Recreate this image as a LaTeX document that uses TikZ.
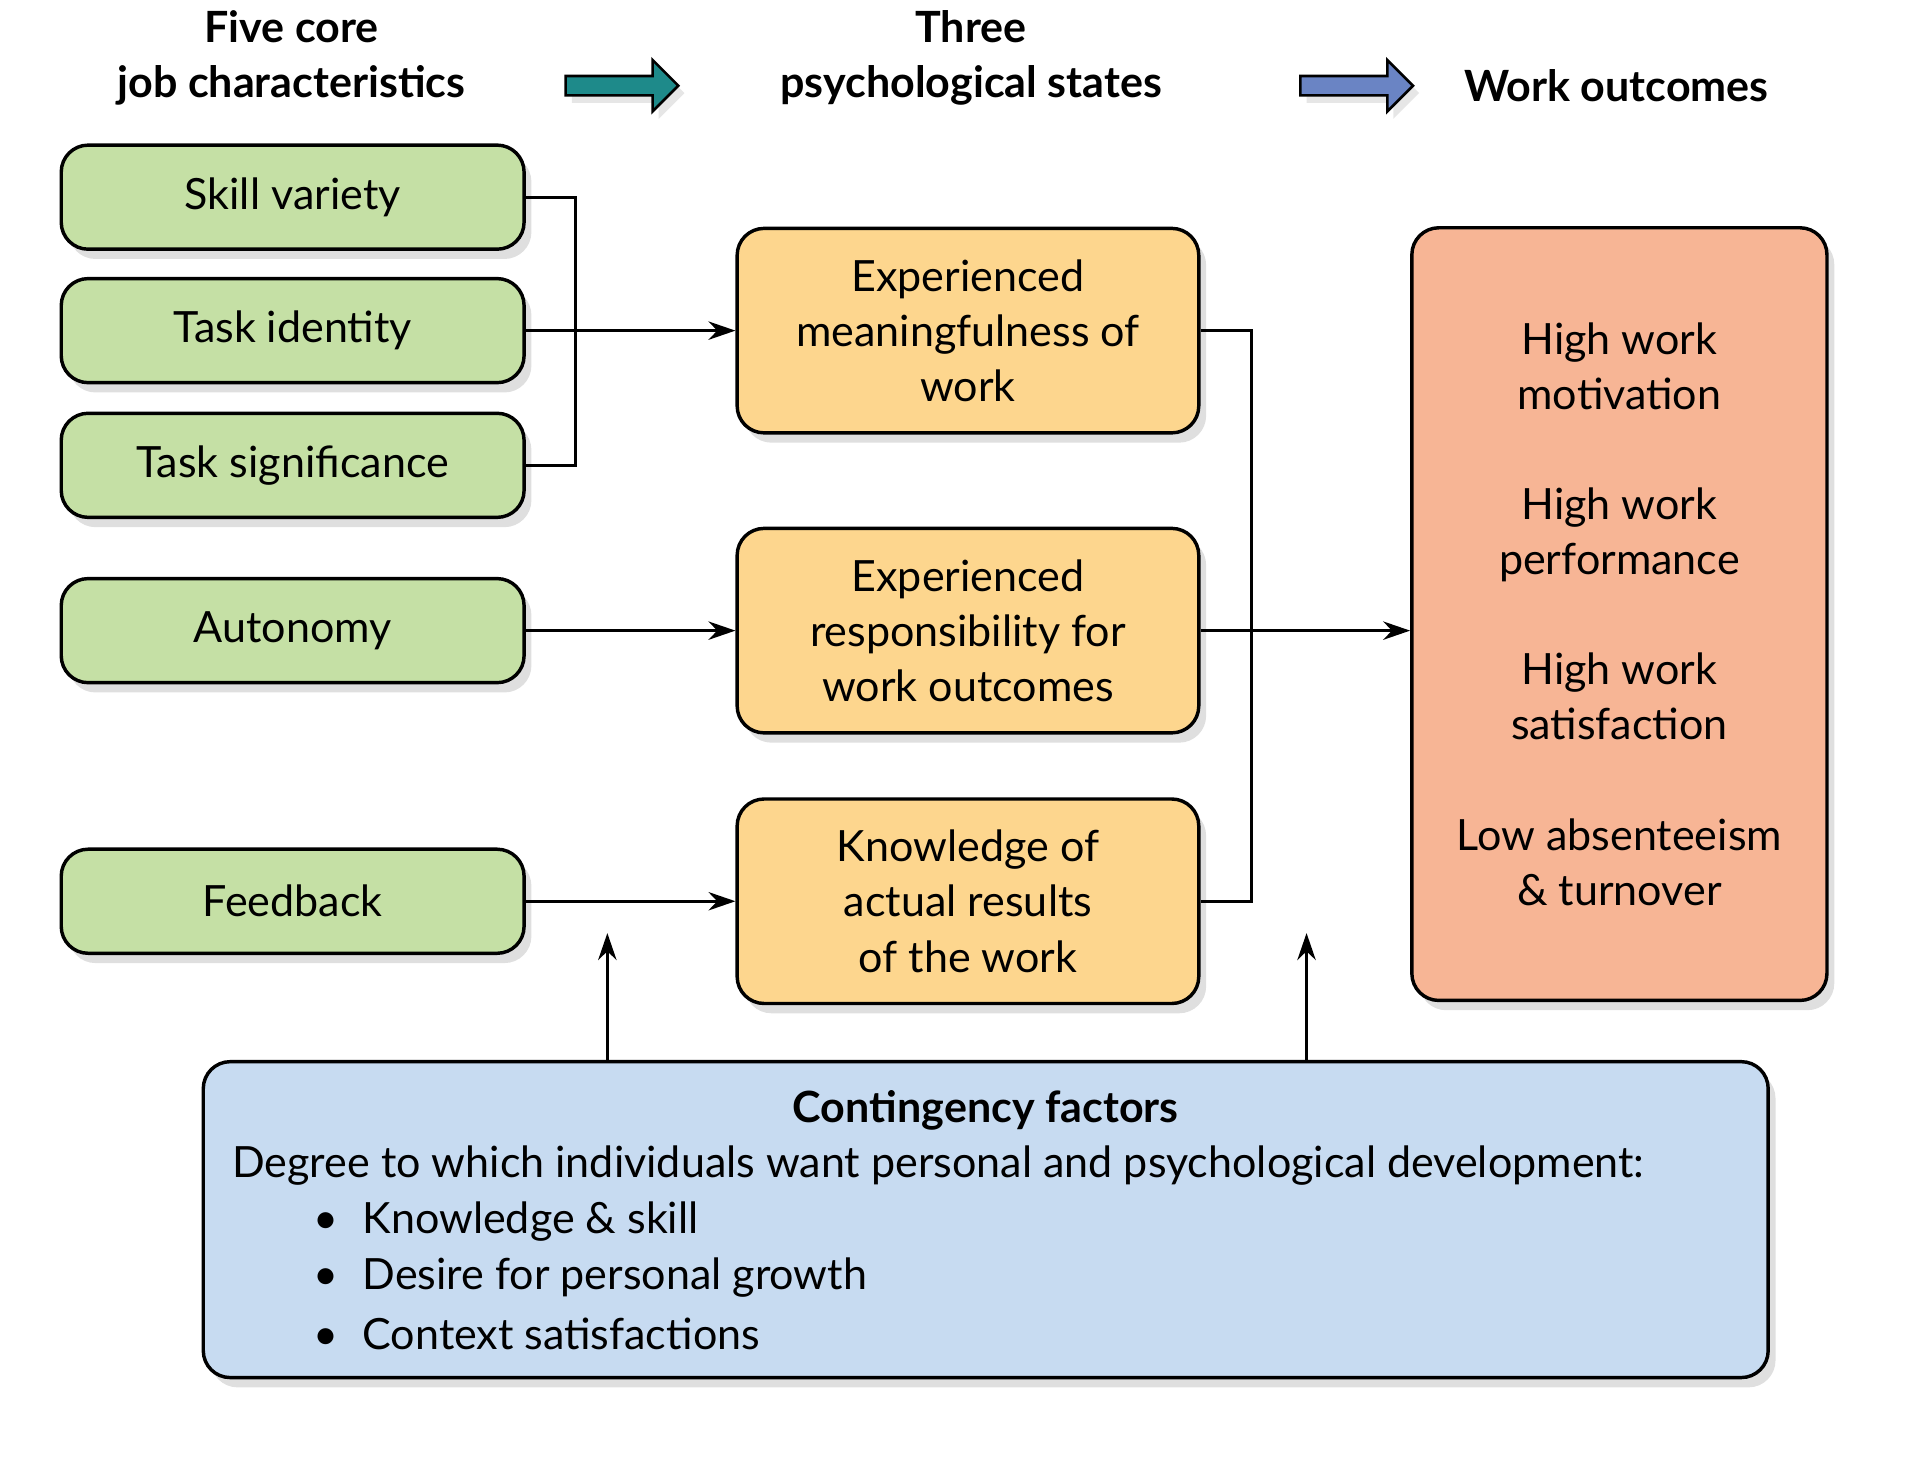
\documentclass[tikz,border=0pt]{standalone}
\usepackage{fontspec}
\setmainfont{Lato}
\usetikzlibrary{shadows,shapes.arrows,arrows.meta}
\definecolor{jobgreen}{HTML}{C5E0A5}
\definecolor{stateorange}{HTML}{FDD68E}
\definecolor{outred}{HTML}{F7B595}
\definecolor{contblue}{HTML}{C7DBF1}
\definecolor{arrteal}{HTML}{1E8A8A}
\definecolor{arrblue}{HTML}{6A84C4}
\tikzset{
  box/.style={draw=black, line width=0.8pt, rounded corners=0.22cm, align=center,
    drop shadow={opacity=0.25, shadow xshift=0.06cm, shadow yshift=-0.08cm},
    font=\fontsize{10}{12.8}\selectfont},
  job/.style={box, fill=jobgreen, minimum width=3.78cm, minimum height=0.85cm},
  state/.style={box, fill=stateorange, minimum width=3.77cm, minimum height=1.67cm},
  head/.style={align=center, font=\bfseries\fontsize{10}{12.8}\selectfont},
  fat/.style={single arrow, draw=black, line width=0.6pt, minimum height=0.92cm,
    minimum width=0.42cm, single arrow head extend=0.1cm, inner sep=0.05cm,
    drop shadow={opacity=0.2, shadow xshift=0.05cm, shadow yshift=-0.06cm}},
  link/.style={line width=0.7pt, -{Stealth[length=0.22cm, width=0.15cm]}},
  txt/.style={font=\fontsize{10}{12.8}\selectfont}
}
\begin{document}
\begin{tikzpicture}
  \useasboundingbox (0,0) rectangle (15.68,-12);
  % headings
  \node[head] (h1) at (2.38,-0.47) {Five core\\job characteristics};
  \node[head] (h2) at (7.93,-0.47) {Three\\psychological states};
  \node[head] (h3) at (13.2,-0.70) {Work outcomes};
  \node[fat, fill=arrteal] (a1) at (5.04,-0.70) {};
  \node[fat, fill=arrblue] (a2) at (11.04,-0.70) {};
  % job characteristics
  \node[job] (skill) at (2.39,-1.61) {Skill variety};
  \node[job] (ident) at (2.39,-2.70) {Task identity};
  \node[job] (signif) at (2.39,-3.80) {Task significance};
  \node[job] (auto) at (2.39,-5.15) {Autonomy};
  \node[job] (feed) at (2.39,-7.36) {Feedback};
  % psychological states
  \node[state] (mean) at (7.905,-2.70) {Experienced\\meaningfulness of\\work};
  \node[state] (resp) at (7.905,-5.15) {Experienced\\responsibility for\\work outcomes};
  \node[state] (know) at (7.905,-7.36) {Knowledge of\\actual results\\of the work};
  % outcomes
  \node[box, fill=outred, minimum width=3.39cm, minimum height=6.31cm] (out) at (13.225,-5.015)
    {High work\\motivation\\[0.45cm]High work\\performance\\[0.45cm]High work\\satisfaction\\[0.45cm]Low absenteeism\\\& turnover};
  % contingency factors
  \node[box, fill=contblue, minimum width=12.78cm, minimum height=2.58cm] (cont) at (8.05,-9.96) {};
  \node[txt, font=\bfseries\fontsize{10}{12.8}\selectfont] (ctitle) at (8.05,-9.07) {Contingency factors};
  \node[txt, anchor=west, inner sep=0] (cdeg) at (1.89,-9.52) {Degree to which individuals want personal and psychological development:};
  \node[txt, anchor=west, inner sep=0] (c1) at (2.55,-9.98) {\textbullet\hspace{0.2cm}Knowledge \& skill};
  \node[txt, anchor=west, inner sep=0] (c2) at (2.55,-10.43) {\textbullet\hspace{0.2cm}Desire for personal growth};
  \node[txt, anchor=west, inner sep=0] (c3) at (2.55,-10.89) {\textbullet\hspace{0.2cm}Context satisfactions};
  % connectors
  \draw[line width=0.7pt] (skill.east) -| (4.70,-3.80) -- (signif.east);
  \draw[link] (ident.east) -- (mean.west);
  \draw[link] (auto.east) -- (resp.west);
  \draw[link] (feed.east) -- (know.west);
  \draw[line width=0.7pt] (mean.east) -| (10.22,-7.36) -- (know.east);
  \draw[link] (resp.east) -- (resp.east -| out.west);
  \coordinate (up1) at (4.96,-7.62);
  \coordinate (up2) at (10.67,-7.62);
  \draw[link] (cont.north -| up1) -- (up1);
  \draw[link] (cont.north -| up2) -- (up2);
\end{tikzpicture}
\end{document}
